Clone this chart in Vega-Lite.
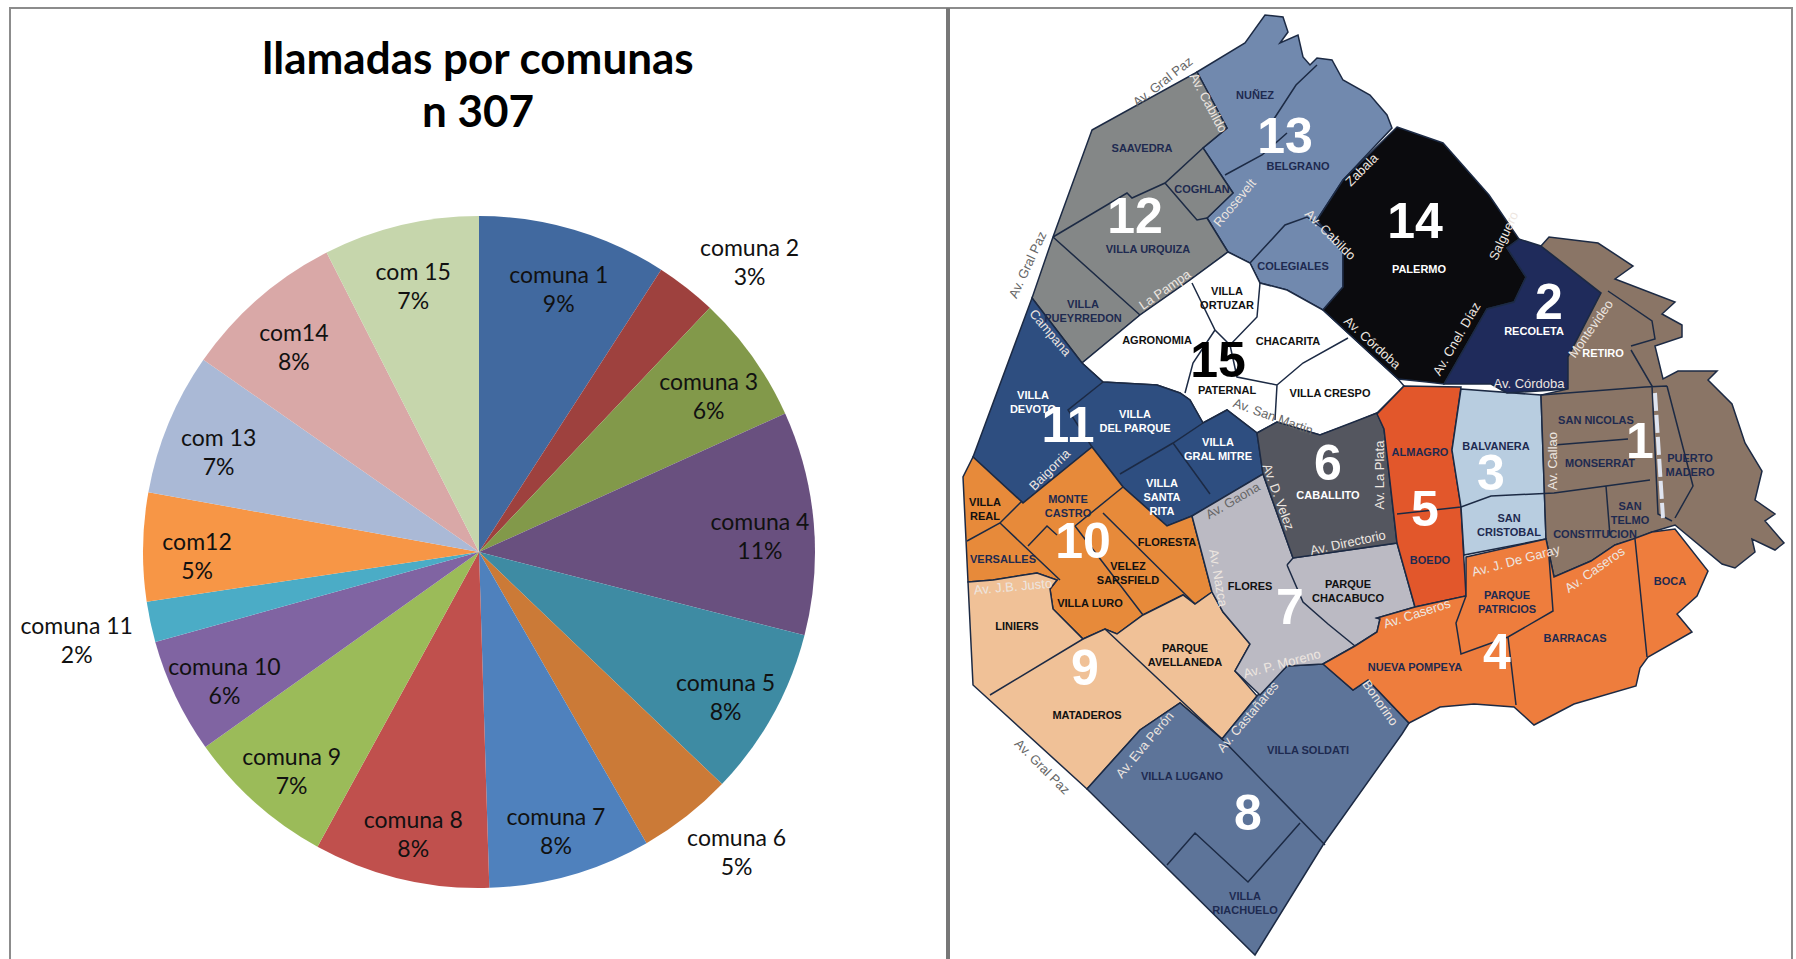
{
"$schema":"https://vega.github.io/schema/vega-lite/v6.json",
"width":1796,"height":959,"autosize":{"type":"none"},"padding":0,"background":"white",
"config":{"view":{"stroke":null}},
"title":{"text":["llamadas por comunas","n 307"],"anchor":"start","frame":"group","align":"center","baseline":"top","dx":478,"dy":106,"font":"Lato","fontSize":44,"fontWeight":"bold","color":"#000000","lineHeight":53,"offset":-30},
"projection":{"type":"identity","scale":1,"translate":[0,0]},
"resolve":{"scale":{"color":"independent"}},
"layer":[
{"data":{"values":[
{"type":"Feature","properties":{"comuna":"13"},"geometry":{"type":"Polygon","coordinates":[[[1197,72],[1245,43],[1265,15],[1283,17],[1288,32],[1280,43],[1298,35],[1303,57],[1310,65],[1317,58],[1332,60],[1343,80],[1370,95],[1387,115],[1392,128],[1343,180],[1317,220],[1343,253],[1343,287],[1323,310],[1287,290],[1260,283],[1250,263],[1228,252],[1207,218],[1233,193],[1203,148],[1227,128],[1197,72]]]}},
{"type":"Feature","properties":{"comuna":"12"},"geometry":{"type":"Polygon","coordinates":[[[1092,130],[1197,72],[1227,128],[1203,148],[1233,193],[1207,218],[1228,252],[1190,280],[1140,315],[1082,363],[1032,298],[1053,237],[1092,130]]]}},
{"type":"Feature","properties":{"comuna":"15"},"geometry":{"type":"Polygon","coordinates":[[[1228,252],[1250,263],[1260,283],[1287,290],[1323,310],[1398,379],[1404,386],[1377,413],[1353,423],[1320,435],[1277,422],[1257,433],[1227,410],[1203,423],[1190,400],[1180,393],[1157,385],[1103,382],[1082,363],[1140,315],[1190,280],[1228,252]]]}},
{"type":"Feature","properties":{"comuna":"11"},"geometry":{"type":"Polygon","coordinates":[[[1032,298],[1082,363],[1103,382],[1157,385],[1180,393],[1190,400],[1203,423],[1227,410],[1257,433],[1263,474],[1192,516],[1167,526],[1123,487],[1092,447],[1023,503],[973,457],[1032,298]]]}},
{"type":"Feature","properties":{"comuna":"10"},"geometry":{"type":"Polygon","coordinates":[[[973,457],[1023,503],[1092,447],[1123,487],[1167,526],[1192,516],[1212,592],[1195,604],[1183,595],[1143,615],[1117,634],[1105,629],[1083,639],[1053,609],[1050,589],[1057,580],[1037,573],[993,580],[968,582],[963,477],[973,457]]]}},
{"type":"Feature","properties":{"comuna":"9"},"geometry":{"type":"Polygon","coordinates":[[[968,582],[993,580],[1037,573],[1057,580],[1050,589],[1053,609],[1083,639],[1105,629],[1117,634],[1143,615],[1183,595],[1195,604],[1212,592],[1223,612],[1250,644],[1235,671],[1257,696],[1222,739],[1180,703],[1140,730],[1087,789],[973,685],[968,582]]]}},
{"type":"Feature","properties":{"comuna":"8"},"geometry":{"type":"Polygon","coordinates":[[[1087,789],[1140,730],[1180,703],[1222,739],[1257,696],[1287,666],[1323,664],[1353,690],[1368,680],[1409,723],[1402,734],[1323,845],[1255,955],[1087,789]]]}},
{"type":"Feature","properties":{"comuna":"7"},"geometry":{"type":"Polygon","coordinates":[[[1192,516],[1263,474],[1293,558],[1397,543],[1415,607],[1377,618],[1380,619],[1377,632],[1355,646],[1323,664],[1287,666],[1260,695],[1235,671],[1250,644],[1223,612],[1212,592],[1192,516]]]}},
{"type":"Feature","properties":{"comuna":"6"},"geometry":{"type":"Polygon","coordinates":[[[1263,474],[1257,433],[1277,422],[1320,435],[1377,413],[1384,429],[1397,543],[1293,558],[1263,474]]]}},
{"type":"Feature","properties":{"comuna":"5"},"geometry":{"type":"Polygon","coordinates":[[[1377,414],[1404,386],[1461,387],[1452,450],[1461,507],[1466,596],[1415,607],[1397,543],[1384,429],[1377,414]]]}},
{"type":"Feature","properties":{"comuna":"3"},"geometry":{"type":"Polygon","coordinates":[[[1461,389],[1541,395],[1546,539],[1464,555],[1461,507],[1452,450],[1461,389]]]}},
{"type":"Feature","properties":{"comuna":"14"},"geometry":{"type":"Polygon","coordinates":[[[1397,127],[1443,143],[1489,195],[1519,239],[1507,248],[1526,277],[1514,302],[1487,309],[1444,384],[1427,382],[1398,379],[1323,310],[1343,287],[1343,253],[1317,220],[1343,180],[1397,127]]]}},
{"type":"Feature","properties":{"comuna":"2"},"geometry":{"type":"Polygon","coordinates":[[[1444,384],[1487,309],[1514,302],[1526,277],[1507,248],[1519,239],[1541,246],[1601,293],[1568,357],[1568,389],[1507,393],[1491,384],[1444,384]]]}},
{"type":"Feature","properties":{"comuna":"1"},"geometry":{"type":"Polygon","coordinates":[[[1541,246],[1549,237],[1598,243],[1633,266],[1615,279],[1675,302],[1662,314],[1682,325],[1682,337],[1655,346],[1663,379],[1678,371],[1717,371],[1708,380],[1732,404],[1745,443],[1762,471],[1755,500],[1775,514],[1765,521],[1784,543],[1775,550],[1752,539],[1755,552],[1735,568],[1722,564],[1675,525],[1652,532],[1635,539],[1615,545],[1591,561],[1554,577],[1546,539],[1541,395],[1568,389],[1568,357],[1601,293],[1541,246]]]}},
{"type":"Feature","properties":{"comuna":"4"},"geometry":{"type":"Polygon","coordinates":[[[1466,557],[1546,539],[1554,577],[1591,561],[1615,545],[1633,539],[1652,532],[1675,529],[1708,571],[1697,596],[1677,614],[1692,632],[1648,657],[1640,668],[1636,686],[1574,704],[1534,725],[1514,707],[1474,704],[1440,707],[1409,723],[1368,680],[1353,690],[1323,664],[1355,646],[1377,632],[1380,619],[1377,618],[1415,607],[1466,596],[1466,557]]]}}
]},
"mark":{"type":"geoshape","stroke":"#1c2a44","strokeWidth":1.5},
"encoding":{"color":{"field":"properties.comuna","type":"nominal","legend":null,"scale":{"domain":["1","2","3","4","5","6","7","8","9","10","11","12","13","14","15"],"range":["#8A7566","#1F2B5B","#B8CDE0","#EE7D3D","#E2572B","#54565F","#BBBAC3","#5D7499","#F0C197","#E78A3A","#2E4E80","#848787","#7189AE","#0B0B0E","#FFFFFF"]}}}},
{"data":{"values":[{"type":"Feature","properties":{"kind":"inner"},"geometry":{"type":"MultiLineString","coordinates":[
[[1053,237],[1127,193],[1132,198],[1165,183],[1203,148]],[[1165,183],[1190,212],[1197,220],[1207,218]],[[1053,237],[1140,315]],
[[1192,283],[1215,330],[1230,345],[1257,317],[1260,283]],[[1215,330],[1193,363],[1185,393]],[[1230,345],[1237,377],[1277,385],[1275,420]],[[1277,385],[1303,363],[1348,338]],
[[1103,382],[1068,410],[1092,447]],[[1203,423],[1173,443],[1120,474]],[[1173,443],[1210,494]],
[[967,541],[1000,523],[1022,501]],[[1000,523],[1060,580]],[[1028,546],[1047,526],[1057,535]],[[1075,526],[1143,615]],[[1075,526],[1123,487]],[[1103,513],[1195,604]],
[[990,695],[1083,639]],[[1105,629],[1222,739]],[[1222,739],[1325,845]],[[1300,823],[1248,882],[1195,833],[1167,865]],
[[1287,565],[1303,602],[1328,624],[1355,646]],[[1287,565],[1293,558]],
[[1397,514],[1461,507],[1491,496],[1554,493]],[[1554,445],[1628,439]],[[1554,493],[1606,486],[1650,480]],[[1606,486],[1610,536]],[[1541,395],[1645,387],[1667,386]],
[[1631,350],[1652,386],[1658,514],[1672,521]],[[1667,386],[1693,486],[1675,518]],[[1608,291],[1652,321],[1655,339],[1631,346]],
[[1635,539],[1647,657]],[[1466,596],[1456,623],[1461,654],[1508,637],[1553,611],[1549,557]],[[1508,637],[1516,705]],[[1317,65],[1296,85],[1270,125]],[[1225,175],[1262,155],[1287,133]],[[1250,263],[1285,225],[1307,217],[1343,243]]
]}}]},
"mark":{"type":"geoshape","filled":false,"stroke":"#1c2a44","strokeWidth":1.5},"encoding":{}},
{"data":{"values":[{"type":"Feature","properties":{"kind":"highway"},"geometry":{"type":"LineString","coordinates":[[1655,393],[1663,518]]}}]},
"mark":{"type":"geoshape","filled":false,"stroke":"#dfe4f0","strokeWidth":4,"strokeDash":[18,4]},"encoding":{}},
{"data":{"values":[{"type":"Feature","properties":{"kind":"panel"},"geometry":{"type":"MultiLineString","coordinates":[[[10,959],[10,8],[1792,8],[1792,959]]]}}]},
"mark":{"type":"geoshape","filled":false,"stroke":"#8c8c8c","strokeWidth":2},"encoding":{}},
{"data":{"values":[{"type":"Feature","properties":{"kind":"divider"},"geometry":{"type":"LineString","coordinates":[[948,8],[948,959]]}}]},
"mark":{"type":"geoshape","filled":false,"stroke":"#777777","strokeWidth":4},"encoding":{}},
{"data":{"values":[
{"x":1255,"y":96,"t":"NUÑEZ","tone":"dark"},{"x":1298,"y":167,"t":"BELGRANO","tone":"dark"},{"x":1293,"y":267,"t":"COLEGIALES","tone":"dark"},{"x":1142,"y":149,"t":"SAAVEDRA","tone":"dark"},{"x":1202,"y":190,"t":"COGHLAN","tone":"dark"},{"x":1148,"y":250,"t":"VILLA URQUIZA","tone":"dark"},{"x":1083,"y":305,"t":"VILLA\nPUEYRREDON","tone":"dark"},
{"x":1157,"y":341,"t":"AGRONOMIA","tone":"black"},{"x":1227,"y":292,"t":"VILLA\nORTUZAR","tone":"black"},{"x":1288,"y":342,"t":"CHACARITA","tone":"black"},{"x":1227,"y":391,"t":"PATERNAL","tone":"black"},{"x":1330,"y":394,"t":"VILLA CRESPO","tone":"black"},
{"x":1419,"y":270,"t":"PALERMO","tone":"white"},{"x":1534,"y":332,"t":"RECOLETA","tone":"white"},{"x":1603,"y":354,"t":"RETIRO","tone":"white"},
{"x":1596,"y":421,"t":"SAN NICOLAS","tone":"dark"},{"x":1600,"y":464,"t":"MONSERRAT","tone":"dark"},{"x":1690,"y":459,"t":"PUERTO\nMADERO","tone":"dark"},{"x":1630,"y":507,"t":"SAN\nTELMO","tone":"dark"},{"x":1595,"y":535,"t":"CONSTITUCION","tone":"dark"},
{"x":1496,"y":447,"t":"BALVANERA","tone":"dark"},{"x":1509,"y":519,"t":"SAN\nCRISTOBAL","tone":"dark"},{"x":1420,"y":453,"t":"ALMAGRO","tone":"dark"},{"x":1430,"y":561,"t":"BOEDO","tone":"dark"},{"x":1507,"y":596,"t":"PARQUE\nPATRICIOS","tone":"dark"},{"x":1575,"y":639,"t":"BARRACAS","tone":"dark"},{"x":1670,"y":582,"t":"BOCA","tone":"dark"},{"x":1415,"y":668,"t":"NUEVA POMPEYA","tone":"dark"},
{"x":1328,"y":496,"t":"CABALLITO","tone":"white"},{"x":1348,"y":585,"t":"PARQUE\nCHACABUCO","tone":"black"},{"x":1250,"y":587,"t":"FLORES","tone":"black"},{"x":1185,"y":649,"t":"PARQUE\nAVELLANEDA","tone":"black"},{"x":1017,"y":627,"t":"LINIERS","tone":"black"},{"x":1087,"y":716,"t":"MATADEROS","tone":"black"},
{"x":1182,"y":777,"t":"VILLA LUGANO","tone":"dark"},{"x":1308,"y":751,"t":"VILLA SOLDATI","tone":"dark"},{"x":1245,"y":897,"t":"VILLA\nRIACHUELO","tone":"dark"},
{"x":985,"y":503,"t":"VILLA\nREAL","tone":"black"},{"x":1068,"y":500,"t":"MONTE\nCASTRO","tone":"dark"},{"x":1003,"y":560,"t":"VERSALLES","tone":"dark"},{"x":1090,"y":604,"t":"VILLA LURO","tone":"black"},{"x":1128,"y":567,"t":"VELEZ\nSARSFIELD","tone":"black"},{"x":1167,"y":543,"t":"FLORESTA","tone":"black"},
{"x":1033,"y":396,"t":"VILLA\nDEVOTO","tone":"white"},{"x":1135,"y":415,"t":"VILLA\nDEL PARQUE","tone":"white"},{"x":1218,"y":443,"t":"VILLA\nGRAL MITRE","tone":"white"},{"x":1162,"y":484,"t":"VILLA\nSANTA\nRITA","tone":"white"}
]},
"mark":{"type":"text","font":"Liberation Sans","fontWeight":"bold","fontSize":11,"lineBreak":"\n","lineHeight":14,"align":"center","baseline":"middle"},
"encoding":{"longitude":{"field":"x","type":"quantitative"},"latitude":{"field":"y","type":"quantitative"},"text":{"field":"t"},
"color":{"field":"tone","type":"nominal","legend":null,"scale":{"domain":["dark","black","white","pale"],"range":["#1E2A50","#111111","#FFFFFF","#F2E2D2"]}}}},
{"data":{"values":[
{"x":1163,"y":82,"t":"Av. Gral Paz","a":-38,"tone":"grey"},{"x":1028,"y":265,"t":"Av. Gral Paz","a":-65,"tone":"grey"},{"x":1042,"y":767,"t":"Av. Gral Paz","a":45,"tone":"grey"},
{"x":1208,"y":103,"t":"Av. Cabildo","a":62,"tone":"pale"},{"x":1235,"y":203,"t":"Roosevelt","a":-50,"tone":"pale"},{"x":1362,"y":170,"t":"Zabala","a":-45,"tone":"pale"},{"x":1330,"y":235,"t":"Av. Cabildo","a":45,"tone":"pale"},{"x":1165,"y":290,"t":"La Pampa","a":-35,"tone":"pale"},{"x":1050,"y":333,"t":"Campana","a":50,"tone":"pale"},{"x":1372,"y":343,"t":"Av. Córdoba","a":42,"tone":"pale"},{"x":1504,"y":236,"t":"Salguero","a":-65,"tone":"pale"},{"x":1457,"y":339,"t":"Av. Cnel. Díaz","a":-60,"tone":"pale"},{"x":1529,"y":384,"t":"Av. Córdoba","a":0,"tone":"pale"},{"x":1591,"y":329,"t":"Montevideo","a":-55,"tone":"pale"},{"x":1553,"y":461,"t":"Av. Callao","a":-90,"tone":"pale"},{"x":1380,"y":475,"t":"Av. La Plata","a":-90,"tone":"pale"},{"x":1516,"y":561,"t":"Av. J. De Garay","a":-15,"tone":"pale"},{"x":1595,"y":570,"t":"Av. Caseros","a":-35,"tone":"pale"},{"x":1417,"y":614,"t":"Av. Caseros","a":-18,"tone":"pale"},{"x":1273,"y":417,"t":"Av. San Martin","a":20,"tone":"grey"},{"x":1278,"y":497,"t":"Av. D. Velez","a":70,"tone":"pale"},{"x":1348,"y":543,"t":"Av. Directorio","a":-12,"tone":"pale"},{"x":1233,"y":501,"t":"Av. Gaona","a":-30,"tone":"grey"},{"x":1218,"y":578,"t":"Av. Nazca","a":80,"tone":"pale"},{"x":1282,"y":664,"t":"Av. P. Moreno","a":-15,"tone":"pale"},{"x":1248,"y":717,"t":"Av. Castañares","a":-50,"tone":"pale"},{"x":1145,"y":745,"t":"Av. Eva Perón","a":-50,"tone":"pale"},{"x":1380,"y":703,"t":"Bonorino","a":55,"tone":"pale"},{"x":1050,"y":470,"t":"Baigorria","a":-45,"tone":"pale"},{"x":1013,"y":587,"t":"Av. J.B. Justo","a":-5,"tone":"pale"}
]},
"mark":{"type":"text","font":"Liberation Sans","fontSize":13,"align":"center","baseline":"middle"},
"encoding":{"longitude":{"field":"x","type":"quantitative"},"latitude":{"field":"y","type":"quantitative"},"text":{"field":"t"},"angle":{"field":"a","type":"quantitative","scale":null},
"color":{"field":"tone","type":"nominal","legend":null,"scale":{"domain":["pale","grey"],"range":["#EDE6E0","#666666"]}}}},
{"data":{"values":[
{"x":1285,"y":138,"t":"13","tone":"white"},{"x":1135,"y":218,"t":"12","tone":"white"},{"x":1415,"y":223,"t":"14","tone":"white"},{"x":1549,"y":304,"t":"2","tone":"white"},{"x":1640,"y":443,"t":"1","tone":"white"},{"x":1491,"y":475,"t":"3","tone":"white"},{"x":1425,"y":511,"t":"5","tone":"white"},{"x":1497,"y":654,"t":"4","tone":"white"},{"x":1328,"y":465,"t":"6","tone":"white"},{"x":1290,"y":609,"t":"7","tone":"white"},{"x":1248,"y":815,"t":"8","tone":"white"},{"x":1085,"y":670,"t":"9","tone":"white"},{"x":1083,"y":543,"t":"10","tone":"white"},{"x":1068,"y":427,"t":"11","tone":"white"},{"x":1218,"y":362,"t":"15","tone":"black"}
]},
"mark":{"type":"text","font":"Liberation Sans","fontWeight":"bold","fontSize":50,"align":"center","baseline":"middle"},
"encoding":{"longitude":{"field":"x","type":"quantitative"},"latitude":{"field":"y","type":"quantitative"},"text":{"field":"t"},
"color":{"field":"tone","type":"nominal","legend":null,"scale":{"domain":["white","black"],"range":["#FFFFFF","#000000"]}}}},
{"data":{"name":"pie","values":[
{"n":1,"comuna":"comuna 1","llamadas":28,"label":"comuna 1\n9%"},
{"n":2,"comuna":"comuna 2","llamadas":9,"label":"comuna 2\n3%"},
{"n":3,"comuna":"comuna 3","llamadas":19,"label":"comuna 3\n6%"},
{"n":4,"comuna":"comuna 4","llamadas":33,"label":"comuna 4\n11%"},
{"n":5,"comuna":"comuna 5","llamadas":25,"label":"comuna 5\n8%"},
{"n":6,"comuna":"comuna 6","llamadas":14,"label":"comuna 6\n5%"},
{"n":7,"comuna":"comuna 7","llamadas":24,"label":"comuna 7\n8%"},
{"n":8,"comuna":"comuna 8","llamadas":26,"label":"comuna 8\n8%"},
{"n":9,"comuna":"comuna 9","llamadas":22,"label":"comuna 9\n7%"},
{"n":10,"comuna":"comuna 10","llamadas":17,"label":"comuna 10\n6%"},
{"n":11,"comuna":"comuna 11","llamadas":6,"label":"comuna 11\n2%"},
{"n":12,"comuna":"com12","llamadas":16,"label":"com12\n5%"},
{"n":13,"comuna":"com 13","llamadas":21,"label":"com 13\n7%"},
{"n":14,"comuna":"com14","llamadas":24,"label":"com14\n8%"},
{"n":15,"comuna":"com 15","llamadas":23,"label":"com 15\n7%"}]},
"mark":{"type":"arc","x":479,"y":552,"outerRadius":336},
"encoding":{"theta":{"field":"llamadas","type":"quantitative","stack":true},"order":{"field":"n"},
"color":{"field":"comuna","type":"nominal","legend":null,"scale":{"domain":["comuna 1","comuna 2","comuna 3","comuna 4","comuna 5","comuna 6","comuna 7","comuna 8","comuna 9","comuna 10","comuna 11","com12","com 13","com14","com 15"],"range":["#41699F","#9E413E","#82994A","#69507F","#3E8BA3","#CB7A37","#4F81BD","#C0504D","#9BBB59","#8064A2","#4BACC6","#F79646","#AAB9D6","#D9A8A7","#C6D6AC"]}}}},
{"data":{"name":"pie"},
"mark":{"type":"text","x":479,"y":552,"radius":282,"dy":-5,"font":"Lato","fontSize":23,"lineBreak":"\n","lineHeight":29,"align":"center","baseline":"middle","fill":"#111111"},
"encoding":{"theta":{"field":"llamadas","type":"quantitative","stack":true},"order":{"field":"n"},"text":{"field":"label"},
"opacity":{"condition":{"test":"datum.n==2||datum.n==6||datum.n==11","value":0},"value":1}}},
{"data":{"name":"pie"},
"mark":{"type":"text","x":479,"y":552,"radius":398,"dx":25,"dy":10,"font":"Lato","fontSize":23,"lineBreak":"\n","lineHeight":29,"align":"center","baseline":"middle","fill":"#111111"},
"encoding":{"theta":{"field":"llamadas","type":"quantitative","stack":true},"order":{"field":"n"},"text":{"field":"label"},
"opacity":{"condition":{"test":"datum.n==2","value":1},"value":0}}},
{"data":{"name":"pie"},
"mark":{"type":"text","x":479,"y":552,"radius":398,"dx":12,"dy":-26,"font":"Lato","fontSize":23,"lineBreak":"\n","lineHeight":29,"align":"center","baseline":"middle","fill":"#111111"},
"encoding":{"theta":{"field":"llamadas","type":"quantitative","stack":true},"order":{"field":"n"},"text":{"field":"label"},
"opacity":{"condition":{"test":"datum.n==6","value":1},"value":0}}},
{"data":{"name":"pie"},
"mark":{"type":"text","x":479,"y":552,"radius":398,"dx":-13,"dy":-8,"font":"Lato","fontSize":23,"lineBreak":"\n","lineHeight":29,"align":"center","baseline":"middle","fill":"#111111"},
"encoding":{"theta":{"field":"llamadas","type":"quantitative","stack":true},"order":{"field":"n"},"text":{"field":"label"},
"opacity":{"condition":{"test":"datum.n==11","value":1},"value":0}}}
]}
